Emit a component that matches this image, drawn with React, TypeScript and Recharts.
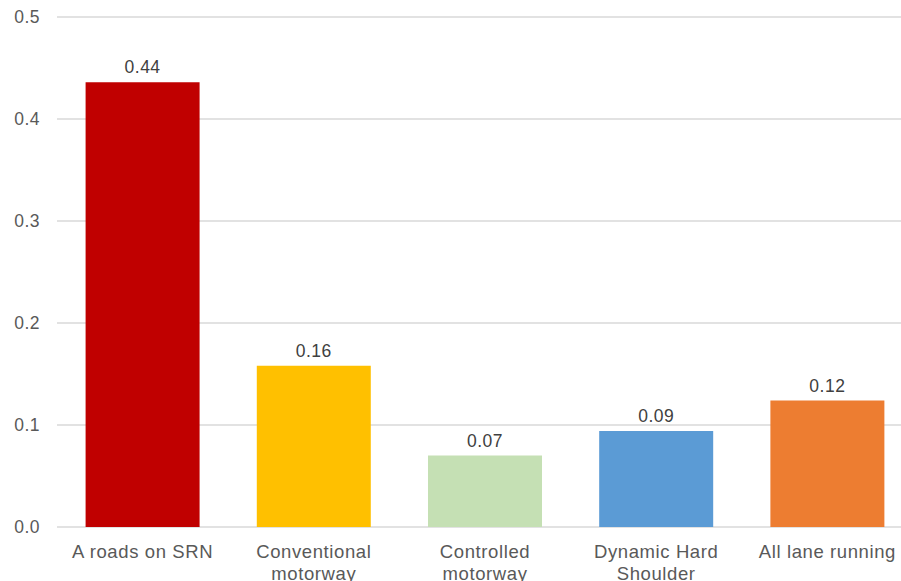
import { BarChart, Bar, XAxis, YAxis, CartesianGrid, Cell, LabelList } from 'recharts';

const categories = [
  'A roads on SRN',
  'Conventional motorway',
  'Controlled motorway',
  'Dynamic Hard Shoulder',
  'All lane running',
];
const values = [0.436, 0.158, 0.07, 0.094, 0.124];
const barColors = ['#C00000', '#FFC000', '#C5E0B4', '#5B9BD5', '#ED7D31'];
const yTicks = [0, 0.1, 0.2, 0.3, 0.4, 0.5];

const data = categories.map((name, i) => ({ name, value: values[i] }));

const textStyle = { fontFamily: 'Liberation Sans, Arial, sans-serif', fontSize: 17.5, letterSpacing: 0.5 };
const catStyle = { ...textStyle, fontSize: 18.5, letterSpacing: 0.6 };

// long labels break at the last space, like the original
function splitLabel(label: string) {
  if (label.length <= 16) return [label];
  const i = label.lastIndexOf(' ');
  return [label.slice(0, i), label.slice(i + 1)];
}

function CategoryTick(props: any) {
  const { x, y, payload } = props;
  const lines = splitLabel(String(payload.value));
  return (
    <text x={x} y={y} textAnchor="middle" fill="#595959" style={catStyle}>
      {lines.map((line, i) => (
        <tspan key={i} x={x} dy={i === 0 ? '0.71em' : 22}>
          {line}
        </tspan>
      ))}
    </text>
  );
}

export default function App() {
  return (
    <div style={{ position: 'fixed', left: 0, top: 0, width: 901, height: 581, overflow: 'hidden', background: '#fff' }}>
      <BarChart
        width={913}
        height={581}
        data={data}
        margin={{ top: 17, right: 0, left: 0, bottom: 0 }}
        barCategoryGap="16.7%"
      >
        <CartesianGrid vertical={false} stroke="#D9D9D9" strokeWidth={1.5} />
        <XAxis
          dataKey="name"
          axisLine={false}
          tickLine={false}
          height={54}
          interval={0}
          tickMargin={12}
          tick={<CategoryTick />}
        />
        <YAxis
          domain={[0, 0.5]}
          ticks={yTicks}
          width={57}
          axisLine={false}
          tickLine={false}
          tickMargin={11}
          tickFormatter={(v: number) => v.toFixed(1)}
          tick={{ fill: '#595959', ...textStyle }}
        />
        <Bar dataKey="value" isAnimationActive={false}>
          {data.map((entry, index) => (
            <Cell key={`cell-${index}`} fill={barColors[index]} />
          ))}
          <LabelList
            dataKey="value"
            position="top"
            offset={9}
            formatter={(v: any) => Number(v).toFixed(2)}
            fill="#404040"
            style={textStyle}
          />
        </Bar>
      </BarChart>
    </div>
  );
}
